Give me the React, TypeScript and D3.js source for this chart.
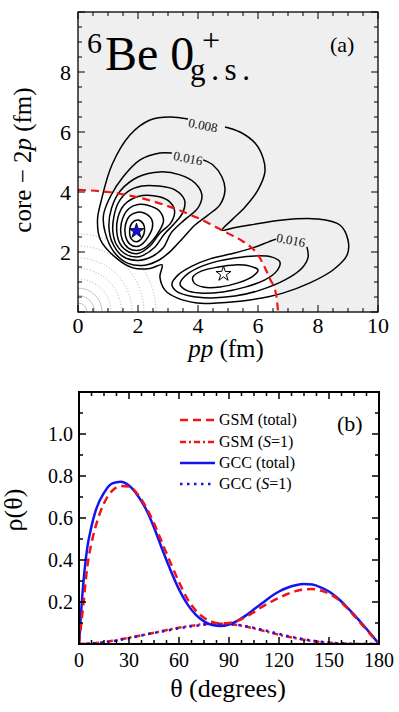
import React from 'react'
import * as d3 from 'd3'

type Pt = [number, number]

// ---------- panel (a): density contours, (pp, core-2p) in fm ----------
// outer 0.008 line, open where the label sits
const CONTOUR_008: Pt[] = [
  [4.9, 6.17], [5.4, 6.0], [5.9, 5.63], [6.17, 5.13], [6.23, 4.67], [6.0, 4.07],
  [5.57, 3.5], [5.13, 3.07], [4.8, 2.73], [5.17, 2.8], [5.73, 2.9], [6.83, 3.07],
  [7.97, 3.1], [8.73, 2.9], [9.0, 2.4], [8.97, 1.9], [8.5, 1.4], [7.73, 0.97],
  [6.83, 0.63], [5.73, 0.4], [4.63, 0.3], [3.97, 0.3], [3.3, 0.47], [2.9, 0.73],
  [2.73, 1.17], [2.8, 1.57], [2.4, 1.45], [1.83, 1.47], [1.3, 1.78], [0.75, 2.4],
  [0.65, 3.07], [0.78, 3.73], [1.13, 4.9], [1.73, 5.9], [2.4, 6.4], [3.07, 6.5],
  [3.67, 6.43],
]

// left lobe
const LEFT_016: Pt[] = [
  [4.17, 5.07], [4.5, 4.9], [4.8, 4.5], [4.9, 4.07], [4.73, 3.57], [4.33, 3.23],
  [3.9, 2.9], [3.5, 2.47], [3.13, 2.07], [2.73, 1.75], [2.23, 1.56], [1.67, 1.62],
  [1.2, 2.0], [0.9, 2.67], [0.85, 3.23], [1.08, 3.85], [1.5, 4.5], [2.07, 5.07],
  [2.73, 5.3], [3.13, 5.3],
]
const LEFT_024: Pt[] = [
  [2.73, 4.67], [3.4, 4.57], [3.9, 4.3], [4.13, 3.9], [4.0, 3.47], [3.55, 3.07],
  [3.1, 2.63], [2.85, 2.15], [2.47, 1.85], [2.0, 1.72], [1.5, 1.85], [1.15, 2.3],
  [1.03, 2.85], [1.12, 3.47], [1.42, 4.05], [2.0, 4.5],
]
const LEFT_032: Pt[] = [
  [2.67, 4.2], [3.23, 4.07], [3.55, 3.73], [3.5, 3.33], [3.2, 2.93], [2.88, 2.6],
  [2.55, 2.15], [2.15, 1.88], [1.95, 1.83], [1.6, 1.92], [1.28, 2.25], [1.16, 2.7],
  [1.2, 3.2], [1.35, 3.65], [1.67, 4.02], [2.13, 4.2],
]
const LEFT_040: Pt[] = [
  [2.57, 3.87], [3.0, 3.72], [3.22, 3.38], [3.1, 2.98], [2.72, 2.62], [2.4, 2.2],
  [2.0, 1.95], [1.7, 2.0], [1.4, 2.28], [1.29, 2.7], [1.33, 3.15], [1.55, 3.58],
  [2.0, 3.85],
]
const LEFT_048: Pt[] = [
  [2.35, 3.55], [2.7, 3.38], [2.85, 3.05], [2.72, 2.72], [2.5, 2.4], [2.2, 2.12],
  [1.95, 2.05], [1.68, 2.13], [1.48, 2.4], [1.42, 2.75], [1.5, 3.15], [1.7, 3.45],
  [2.0, 3.58],
]
const LEFT_056: Pt[] = [
  [2.2, 3.3], [2.45, 3.1], [2.48, 2.82], [2.35, 2.52], [2.15, 2.27], [1.95, 2.18],
  [1.72, 2.27], [1.58, 2.55], [1.58, 2.9], [1.72, 3.2], [1.95, 3.32],
]
const LEFT_064: Pt[] = [
  [2.0, 3.07], [2.17, 2.95], [2.22, 2.72], [2.12, 2.45], [1.95, 2.34], [1.78, 2.43],
  [1.72, 2.7], [1.8, 2.97],
]

// right lobe
const RIGHT_016: Pt[] = [
  [7.63, 2.17], [7.67, 1.83], [7.47, 1.47], [6.9, 1.07], [6.07, 0.73], [5.23, 0.53],
  [4.4, 0.47], [3.73, 0.53], [3.27, 0.7], [3.13, 0.93], [3.33, 1.23], [3.8, 1.53],
  [4.4, 1.77], [5.07, 1.93], [5.8, 2.13], [6.33, 2.33], [6.6, 2.43],
]
const RIGHT_024: Pt[] = [
  [6.73, 1.67], [6.63, 1.37], [6.23, 1.07], [5.57, 0.83], [4.83, 0.67], [4.07, 0.63],
  [3.6, 0.73], [3.4, 0.93], [3.57, 1.2], [4.0, 1.47], [4.57, 1.67], [5.23, 1.8],
  [5.9, 1.87], [6.47, 1.83],
]
const RIGHT_032: Pt[] = [
  [6.0, 1.4], [5.8, 1.17], [5.33, 0.97], [4.73, 0.83], [4.17, 0.83], [3.87, 0.97],
  [3.83, 1.17], [4.13, 1.37], [4.67, 1.5], [5.23, 1.57], [5.73, 1.53],
]

const CONTOUR_LABELS = [
  { text: '0.008', pp: 4.17, core: 6.23 },
  { text: '0.016', pp: 3.67, core: 5.13 },
  { text: '0.016', pp: 7.1, core: 2.4 },
]

const PEAK_LEFT: Pt = [1.95, 2.7]
const PEAK_RIGHT: Pt = [4.85, 1.27]

// red dashed boundary
const RED_PP = [0, 1, 2, 3, 4, 5, 5.5, 6, 6.4, 6.6, 6.67]
const RED_CORE = [4.07, 4.0, 3.82, 3.53, 3.13, 2.62, 2.35, 1.9, 1.1, 0.6, 0]

// faint rings near the origin
const RING_SOLID = [0.3, 0.55, 0.8]
const RING_DOTTED = [1.1, 1.45, 1.8, 2.2, 2.6]

const A_X_LABELS = [0, 2, 4, 6, 8, 10]
const A_Y_LABELS = [2, 4, 6, 8]

// ---------- panel (b): angular density ----------
const THETA = [0, 2.5, 5, 7.5, 10, 15, 20, 25, 30, 35, 40, 45, 50, 55, 60, 65, 70, 75, 80, 85, 90,
  95, 100, 105, 110, 115, 120, 125, 130, 135, 140, 145, 150, 155, 160, 165, 170, 175, 180]
const GSM_TOTAL = [0, 0.18, 0.37, 0.48, 0.56, 0.67, 0.73, 0.752, 0.75, 0.715, 0.655, 0.575, 0.48,
  0.385, 0.295, 0.215, 0.16, 0.125, 0.105, 0.098, 0.1, 0.11, 0.128, 0.152, 0.178, 0.2, 0.22,
  0.238, 0.252, 0.26, 0.262, 0.255, 0.24, 0.215, 0.178, 0.135, 0.09, 0.045, 0]
const GCC_TOTAL = [0, 0.28, 0.46, 0.56, 0.635, 0.72, 0.765, 0.773, 0.755, 0.71, 0.645, 0.555, 0.45,
  0.35, 0.26, 0.19, 0.14, 0.108, 0.09, 0.086, 0.093, 0.11, 0.135, 0.165, 0.195, 0.225, 0.25,
  0.268, 0.28, 0.286, 0.283, 0.27, 0.25, 0.22, 0.182, 0.14, 0.095, 0.048, 0]

const THETA_S1 = [0, 10, 20, 30, 40, 50, 60, 70, 80, 90, 100, 110, 120, 130, 140, 150, 160, 170, 180]
const GSM_S1 = [0, 0.005, 0.015, 0.03, 0.045, 0.062, 0.078, 0.09, 0.097, 0.095, 0.083, 0.064, 0.044,
  0.027, 0.014, 0.006, 0.002, 0, 0]
const GCC_S1 = [0, 0.004, 0.013, 0.028, 0.045, 0.06, 0.075, 0.087, 0.094, 0.094, 0.085, 0.068, 0.048,
  0.03, 0.016, 0.007, 0.002, 0, 0]

const B_X_LABELS = [0, 30, 60, 90, 120, 150, 180]
const B_Y_LABELS = [0.2, 0.4, 0.6, 0.8, 1.0]

const FONT = 'Liberation Serif'
const RED = '#f01414'
const BLUE = '#1414f0'

function PanelA() {
  const x = d3.scaleLinear().domain([0, 10]).range([78, 378])
  const y = d3.scaleLinear().domain([0, 10]).range([312, 12])
  const closed = d3.line<Pt>().x((d) => x(d[0])).y((d) => y(d[1])).curve(d3.curveCatmullRomClosed.alpha(0.5))
  const open = d3.line<Pt>().x((d) => x(d[0])).y((d) => y(d[1])).curve(d3.curveCatmullRom.alpha(0.5))
  const redPts: Pt[] = RED_PP.map((p, i) => [p, RED_CORE[i]])
  const redLine = d3.line<Pt>().x((d) => x(d[0])).y((d) => y(d[1])).curve(d3.curveMonotoneX)
  const whiteArea = `${redLine(redPts)}L${x(0)},${y(0)}Z`
  const ring = (r: number) => `M${x(0)},${y(r)}A${x(r) - x(0)},${x(r) - x(0)} 0 0 1 ${x(r)},${y(0)}`
  const star = d3.symbol().type(d3.symbolStar).size(70)()
  const ticks = d3.range(0, 10.001, 0.5)
  const isMajor = (t: number) => Math.abs(t % 2) < 1e-6

  return (
    <g>
      <defs>
        <clipPath id="clipA">
          <rect x={78} y={12} width={300} height={300} />
        </clipPath>
      </defs>
      <rect x={78} y={12} width={300} height={300} fill="#efefef" />
      <g clipPath="url(#clipA)">
        <path d={whiteArea} fill="#fff" />
        {RING_SOLID.map((r) => (
          <path key={`s${r}`} d={ring(r)} fill="none" stroke="#b5b5b5" strokeWidth={0.8} />
        ))}
        {RING_DOTTED.map((r) => (
          <path key={`d${r}`} d={ring(r)} fill="none" stroke="#aaa" strokeWidth={1} strokeDasharray="1,2" />
        ))}
        {[CONTOUR_008, LEFT_016, RIGHT_016].map((c, i) => (
          <path key={`o${i}`} d={open(c) || ''} fill="none" stroke="#000" strokeWidth={1.5} />
        ))}
        {[LEFT_024, LEFT_032, LEFT_040, LEFT_048, LEFT_056, LEFT_064, RIGHT_024, RIGHT_032].map((c, i) => (
          <path key={`c${i}`} d={closed(c) || ''} fill="none" stroke="#000" strokeWidth={1.5} />
        ))}
        <path d={redLine(redPts) || ''} fill="none" stroke={RED} strokeWidth={2.2} strokeDasharray="8,5" />
        <path d={star || ''} transform={`translate(${x(PEAK_LEFT[0])},${y(PEAK_LEFT[1])})`} fill="#1010e0" stroke="#000" strokeWidth={0.8} />
        <path d={star || ''} transform={`translate(${x(PEAK_RIGHT[0])},${y(PEAK_RIGHT[1])})`} fill="#fff" stroke="#000" strokeWidth={1} />
        {CONTOUR_LABELS.map((l, i) => (
          <text key={i} fontFamily={FONT} transform={`translate(${x(l.pp)},${y(l.core)}) rotate(11)`} textAnchor="middle" dy="0.35em" fontSize={13} fill="#111">
            {l.text}
          </text>
        ))}
      </g>
      <rect x={78} y={12} width={300} height={300} fill="none" stroke="#000" strokeWidth={1.3} />
      {ticks.map((t) => {
        const len = isMajor(t) ? 7 : 4
        return (
          <g key={t} stroke="#000" strokeWidth={1}>
            <line x1={x(t)} x2={x(t)} y1={312} y2={312 - len} />
            <line x1={x(t)} x2={x(t)} y1={12} y2={12 + len} />
            <line y1={y(t)} y2={y(t)} x1={78} x2={78 + len} />
            <line y1={y(t)} y2={y(t)} x1={378} x2={378 - len} />
          </g>
        )
      })}
      {A_X_LABELS.map((t) => (
        <text key={t} fontFamily={FONT} x={x(t)} y={333} textAnchor="middle" fontSize={22}>{t}</text>
      ))}
      {A_Y_LABELS.map((t) => (
        <text key={t} fontFamily={FONT} x={71} y={y(t)} dy="0.35em" textAnchor="end" fontSize={22}>{t}</text>
      ))}
      <text fontFamily={FONT} x={226} y={357} textAnchor="middle" fontSize={25}>
        <tspan fontStyle="italic">pp</tspan> (fm)
      </text>
      <text fontFamily={FONT} transform="translate(31,160) rotate(-90)" textAnchor="middle" fontSize={25}>
        core − 2<tspan fontStyle="italic">p</tspan> (fm)
      </text>
      {/* title */}
      <text fontFamily={FONT} x={87} y={53} fontSize={30}>6</text>
      <text fontFamily={FONT} x={105} y={70} fontSize={48}>Be 0</text>
      <text fontFamily={FONT} x={202} y={51} fontSize={32}>+</text>
      <text fontFamily={FONT} x={190} y={80} fontSize={31} textLength={60} lengthAdjust="spacing">g.s.</text>
      <text fontFamily={FONT} x={330} y={52} fontSize={22}>(a)</text>
    </g>
  )
}

function PanelB() {
  const x = d3.scaleLinear().domain([0, 180]).range([79, 379])
  const y = d3.scaleLinear().domain([0, 1.2]).range([644, 392])
  const line = (xs: number[], ys: number[]) =>
    d3.line<number>().x((_, i) => x(xs[i])).y((d) => y(d)).curve(d3.curveMonotoneX)(ys) || ''
  const xt = d3.range(0, 180.001, 7.5)
  const yt = d3.range(0, 1.2001, 0.1)
  const legend = [
    { name: 'GSM', tag: 'total', color: RED, dash: '8,5' },
    { name: 'GSM', tag: 'S', color: RED, dash: '6,3,2,3' },
    { name: 'GCC', tag: 'total', color: BLUE, dash: '' },
    { name: 'GCC', tag: 'S', color: BLUE, dash: '2.5,4.5' },
  ]
  const rows = [420, 442, 463, 484]

  return (
    <g>
      <defs>
        <clipPath id="clipB">
          <rect x={79} y={392} width={300} height={252} />
        </clipPath>
      </defs>
      <g clipPath="url(#clipB)" fill="none" strokeWidth={2.5}>
        <path d={line(THETA_S1, GSM_S1)} stroke={RED} strokeDasharray="6,3,2,3" />
        <path d={line(THETA_S1, GCC_S1)} stroke={BLUE} strokeDasharray="2.5,4.5" />
        <path d={line(THETA, GCC_TOTAL)} stroke={BLUE} />
        <path d={line(THETA, GSM_TOTAL)} stroke={RED} strokeDasharray="8,5" />
      </g>
      <rect x={79} y={392} width={300} height={252} fill="none" stroke="#000" strokeWidth={2} />
      {xt.map((t) => {
        const len = Math.abs(t % 30) < 1e-6 ? 7 : 4
        return (
          <g key={t} stroke="#000" strokeWidth={1.5}>
            <line x1={x(t)} x2={x(t)} y1={644} y2={644 - len} />
            <line x1={x(t)} x2={x(t)} y1={392} y2={392 + len} />
          </g>
        )
      })}
      {yt.map((t, i) => {
        const len = i % 2 === 0 ? 7 : 4
        return (
          <g key={t} stroke="#000" strokeWidth={1.5}>
            <line y1={y(t)} y2={y(t)} x1={79} x2={79 + len} />
            <line y1={y(t)} y2={y(t)} x1={379} x2={379 - len} />
          </g>
        )
      })}
      {B_X_LABELS.map((t) => (
        <text key={t} fontFamily={FONT} x={x(t)} y={667} textAnchor="middle" fontSize={20}>{t}</text>
      ))}
      {B_Y_LABELS.map((t) => (
        <text key={t} fontFamily={FONT} x={73} y={y(t)} dy="0.35em" textAnchor="end" fontSize={20}>{d3.format('.1f')(t)}</text>
      ))}
      <text fontFamily={FONT} x={228} y={697} textAnchor="middle" fontSize={26}>θ (degrees)</text>
      <text fontFamily={FONT} transform="translate(22,510) rotate(-90)" textAnchor="middle" fontSize={26}>ρ(θ)</text>
      <text fontFamily={FONT} x={337} y={431} fontSize={22}>(b)</text>
      {legend.map((l, i) => (
        <g key={i}>
          <line x1={180} x2={215} y1={rows[i]} y2={rows[i]} stroke={l.color} strokeWidth={2.5} strokeDasharray={l.dash || undefined} />
          <text fontFamily={FONT} x={219} y={rows[i] + 5} fontSize={16}>
            {l.name} (
            {l.tag === 'S' ? (
              <>
                <tspan fontStyle="italic">S</tspan>=1
              </>
            ) : (
              'total'
            )}
            )
          </text>
        </g>
      ))}
    </g>
  )
}

export default function App() {
  return (
    <svg width={399} height={712} style={{ position: 'absolute', left: 0, top: 0, background: '#fff' }}>
      <PanelA />
      <PanelB />
    </svg>
  )
}
